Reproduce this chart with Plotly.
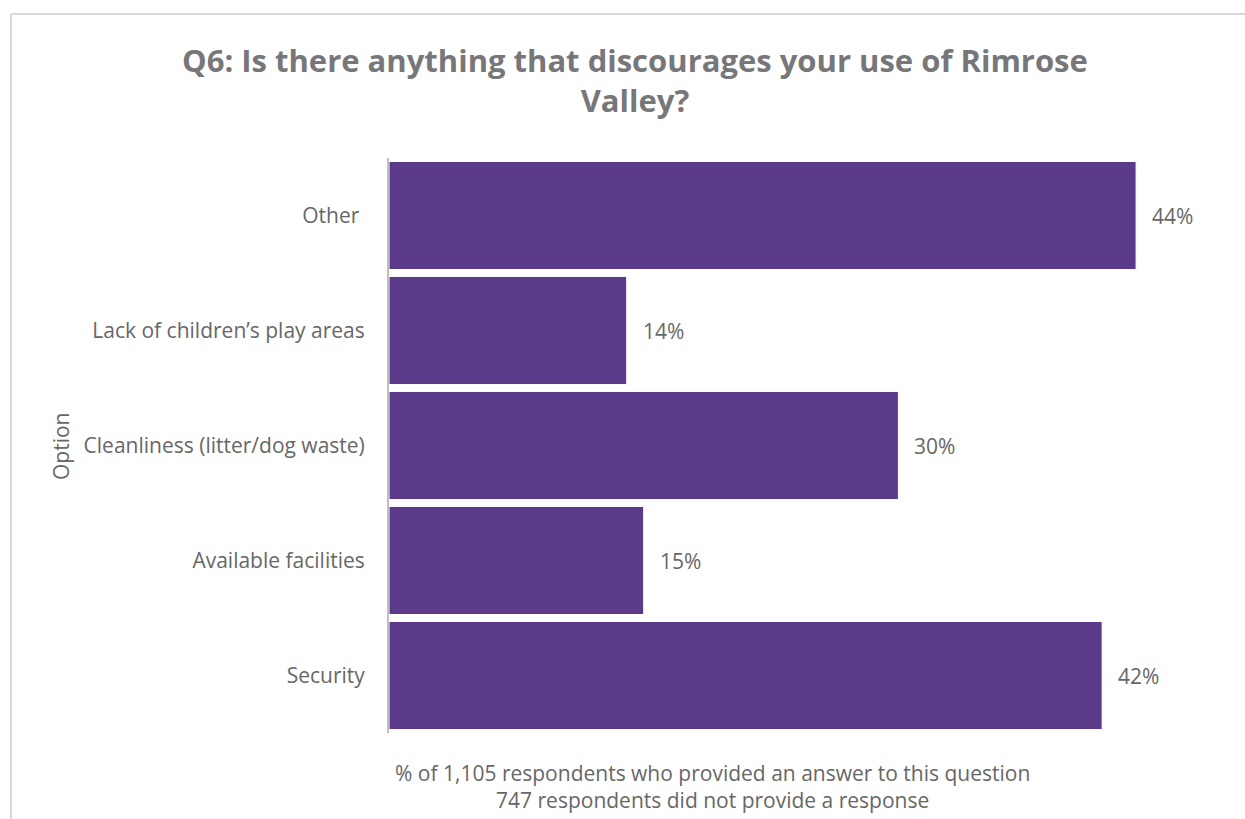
import plotly.graph_objects as go

# Survey responses, listed bottom-to-top as drawn on the category axis
options = ["Security", "Available facilities", "Cleanliness (litter/dog waste)",
           "Lack of children\u2019s play areas", "Other "]
percent = [42, 15, 30, 14, 44]
labels = ["42%", "15%", "30%", "14%", "44%"]

title_text = "Q6: Is there anything that discourages your use of Rimrose<br>Valley?"
caption_text = ("% of 1,105 respondents who provided an answer to this question<br>"
                "747 respondents did not provide a response")

W, H = 1245, 819
L, R, T, B = 389, 41, 158, 86
plot_w = W - L - R
plot_h = H - T - B

BAR = "#5B3A89"
GREY = "#676767"
FONT = "Open Sans"
TXT = 21


def px_x(px):
    return (px - L) / plot_w


def px_y(py):
    return (H - B - py) / plot_h


fig = go.Figure(
    go.Bar(
        x=percent,
        y=options,
        orientation="h",
        marker=dict(color=BAR, line=dict(color="white", width=1)),
        hoverinfo="skip",
    )
)

# value labels to the right of each bar
for opt, val, lab in zip(options, percent, labels):
    fig.add_annotation(
        x=val, y=opt, text=lab, showarrow=False,
        xanchor="left", xshift=14,
        font=dict(family=FONT, size=TXT, color=GREY),
    )

# chart title
fig.add_annotation(
    x=px_x(635), y=px_y(80), xref="paper", yref="paper",
    text=title_text, showarrow=False, xanchor="center", yanchor="middle",
    font=dict(family=FONT, size=31, color="#77777A", weight="bold"),
)

# category axis title
fig.add_annotation(
    x=px_x(61), y=px_y(447), xref="paper", yref="paper",
    text="Option", showarrow=False, textangle=-90,
    xanchor="center", yanchor="middle",
    font=dict(family=FONT, size=TXT, color=GREY),
)

# caption under the plot
fig.add_annotation(
    x=px_x(712), y=px_y(786), xref="paper", yref="paper",
    text=caption_text, showarrow=False, xanchor="center", yanchor="middle",
    font=dict(family=FONT, size=TXT, color=GREY),
)

# chart-area border (top and left edges)
fig.add_shape(type="line", xref="paper", yref="paper",
              x0=px_x(11), x1=px_x(W + 10), y0=px_y(14), y1=px_y(14),
              line=dict(color="#D9D9D9", width=2))
fig.add_shape(type="line", xref="paper", yref="paper",
              x0=px_x(11), x1=px_x(11), y0=px_y(14), y1=px_y(H + 10),
              line=dict(color="#D9D9D9", width=2))

fig.update_layout(
    width=W, height=H,
    margin=dict(l=L, r=R, t=T, b=B),
    paper_bgcolor="white", plot_bgcolor="white",
    bargap=0.06,
    showlegend=False,
    font=dict(family=FONT, color=GREY),
    xaxis=dict(range=[0, 48], visible=False, fixedrange=True),
    yaxis=dict(
        showline=True, linecolor="#BFBFBF", linewidth=2,
        showgrid=False, ticks="", ticklabelstandoff=18,
        tickfont=dict(family=FONT, size=TXT, color=GREY),
        fixedrange=True,
    ),
)

fig.write_html("out.html")
